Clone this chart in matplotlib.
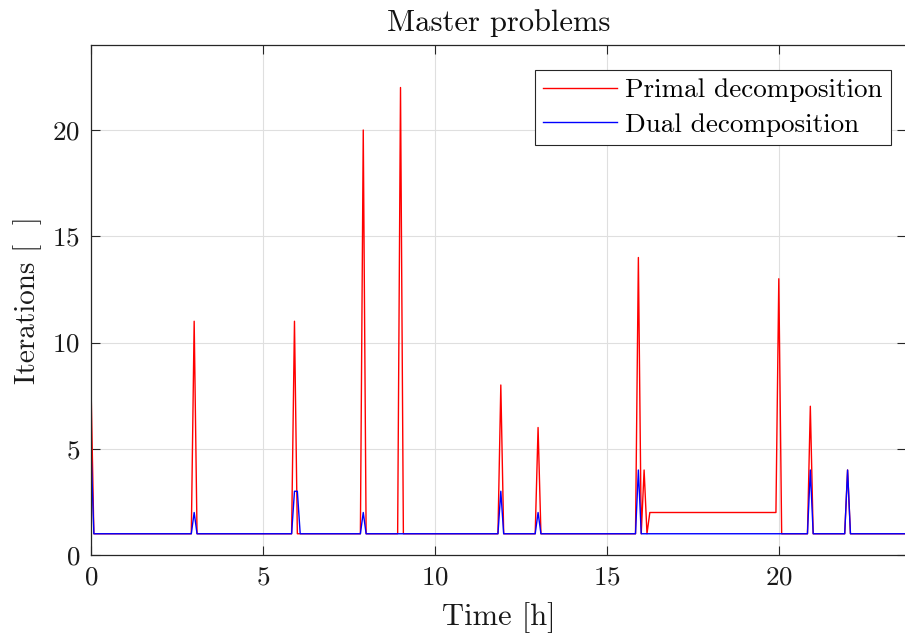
import numpy as np
import matplotlib
matplotlib.use("Agg")
import matplotlib.pyplot as plt

# Iterations of the master problem per 5-minute sample (12 samples per hour)
primal_iters = [
    8, 1, 1, 1, 1, 1, 1, 1, 1, 1, 1, 1, 1, 1, 1, 1, 1, 1, 1, 1, 1, 1, 1, 1,
    1, 1, 1, 1, 1, 1, 1, 1, 1, 1, 1, 1, 11, 1, 1, 1, 1, 1, 1, 1, 1, 1, 1, 1,
    1, 1, 1, 1, 1, 1, 1, 1, 1, 1, 1, 1, 1, 1, 1, 1, 1, 1, 1, 1, 1, 1, 1, 11,
    1, 1, 1, 1, 1, 1, 1, 1, 1, 1, 1, 1, 1, 1, 1, 1, 1, 1, 1, 1, 1, 1, 1, 20,
    1, 1, 1, 1, 1, 1, 1, 1, 1, 1, 1, 1, 22, 1, 1, 1, 1, 1, 1, 1, 1, 1, 1, 1,
    1, 1, 1, 1, 1, 1, 1, 1, 1, 1, 1, 1, 1, 1, 1, 1, 1, 1, 1, 1, 1, 1, 1, 8,
    1, 1, 1, 1, 1, 1, 1, 1, 1, 1, 1, 1, 6, 1, 1, 1, 1, 1, 1, 1, 1, 1, 1, 1,
    1, 1, 1, 1, 1, 1, 1, 1, 1, 1, 1, 1, 1, 1, 1, 1, 1, 1, 1, 1, 1, 1, 1, 14,
    1, 4, 1, 2, 2, 2, 2, 2, 2, 2, 2, 2, 2, 2, 2, 2, 2, 2, 2, 2, 2, 2, 2, 2,
    2, 2, 2, 2, 2, 2, 2, 2, 2, 2, 2, 2, 2, 2, 2, 2, 2, 2, 2, 2, 2, 2, 2, 2,
    13, 1, 1, 1, 1, 1, 1, 1, 1, 1, 1, 7, 1, 1, 1, 1, 1, 1, 1, 1, 1, 1, 1, 1,
    4, 1, 1, 1, 1, 1, 1, 1, 1, 1, 1, 1, 1, 1, 1, 1, 1, 1, 1, 1, 1, 1, 1, 1,
]

dual_iters = [
    5, 1, 1, 1, 1, 1, 1, 1, 1, 1, 1, 1, 1, 1, 1, 1, 1, 1, 1, 1, 1, 1, 1, 1,
    1, 1, 1, 1, 1, 1, 1, 1, 1, 1, 1, 1, 2, 1, 1, 1, 1, 1, 1, 1, 1, 1, 1, 1,
    1, 1, 1, 1, 1, 1, 1, 1, 1, 1, 1, 1, 1, 1, 1, 1, 1, 1, 1, 1, 1, 1, 1, 3,
    3, 1, 1, 1, 1, 1, 1, 1, 1, 1, 1, 1, 1, 1, 1, 1, 1, 1, 1, 1, 1, 1, 1, 2,
    1, 1, 1, 1, 1, 1, 1, 1, 1, 1, 1, 1, 1, 1, 1, 1, 1, 1, 1, 1, 1, 1, 1, 1,
    1, 1, 1, 1, 1, 1, 1, 1, 1, 1, 1, 1, 1, 1, 1, 1, 1, 1, 1, 1, 1, 1, 1, 3,
    1, 1, 1, 1, 1, 1, 1, 1, 1, 1, 1, 1, 2, 1, 1, 1, 1, 1, 1, 1, 1, 1, 1, 1,
    1, 1, 1, 1, 1, 1, 1, 1, 1, 1, 1, 1, 1, 1, 1, 1, 1, 1, 1, 1, 1, 1, 1, 4,
    1, 1, 1, 1, 1, 1, 1, 1, 1, 1, 1, 1, 1, 1, 1, 1, 1, 1, 1, 1, 1, 1, 1, 1,
    1, 1, 1, 1, 1, 1, 1, 1, 1, 1, 1, 1, 1, 1, 1, 1, 1, 1, 1, 1, 1, 1, 1, 1,
    1, 1, 1, 1, 1, 1, 1, 1, 1, 1, 1, 4, 1, 1, 1, 1, 1, 1, 1, 1, 1, 1, 1, 1,
    4, 1, 1, 1, 1, 1, 1, 1, 1, 1, 1, 1, 1, 1, 1, 1, 1, 1, 1, 1, 1, 1, 1, 1,
]

series_labels = ["Primal decomposition", "Dual decomposition"]
x_ticks = [0, 5, 10, 15, 20]
y_ticks = [0, 5, 10, 15, 20]

samples_per_hour = 12
time_h = np.arange(len(primal_iters)) / samples_per_hour

plt.rcParams["font.family"] = "serif"
plt.rcParams["font.serif"] = ["cmr10", "DejaVu Serif"]
plt.rcParams["mathtext.fontset"] = "cm"
plt.rcParams["axes.formatter.use_mathtext"] = True

FS_TICK = 19.5
FS_LABEL = 22
FS_LEG = 19.5
AX_COLOR = "#262626"

fig = plt.figure(figsize=(9.05, 6.37), dpi=100)
W, H = 905, 637
left, right, top, bottom = 91, 906, 45, 555
ax = fig.add_axes([left / W, 1 - bottom / H, (right - left) / W, (bottom - top) / H])

ax.plot(time_h, primal_iters, color="#ff0000", lw=1.0, label=series_labels[0])
ax.plot(time_h, dual_iters, color="#0000ff", lw=1.0, label=series_labels[1])

ax.set_xlim(0, (right - left) / 34.39)
ax.set_ylim(0, 24)
ax.set_xticks(x_ticks)
ax.set_yticks(y_ticks)

ax.grid(True, color="#dfdfdf", lw=0.8)
ax.set_axisbelow(True)
for s in ax.spines.values():
    s.set_color(AX_COLOR)
    s.set_linewidth(0.9)
ax.tick_params(direction="in", length=6.5, width=0.8, color=AX_COLOR,
               labelsize=FS_TICK, labelcolor="#1a1a1a", top=True, right=True, pad=8)

ax.set_title("Master problems", fontsize=FS_LABEL, color="#111111", pad=10)
ax.set_xlabel("Time [h]", fontsize=FS_LABEL, color="#1a1a1a", labelpad=9)
ax.set_ylabel("Iterations [  ]", fontsize=21, color="#1a1a1a", labelpad=7)

leg = ax.legend(loc="upper right", bbox_to_anchor=(891 / W, 1 - 70 / H),
                bbox_transform=fig.transFigure, borderaxespad=0,
                fontsize=FS_LEG, fancybox=False, framealpha=1, edgecolor=AX_COLOR,
                handlelength=2.75, handletextpad=0.3, borderpad=0.3,
                labelspacing=0.4)
leg.get_frame().set_linewidth(0.8)

fig.savefig("out.png", dpi=100)
